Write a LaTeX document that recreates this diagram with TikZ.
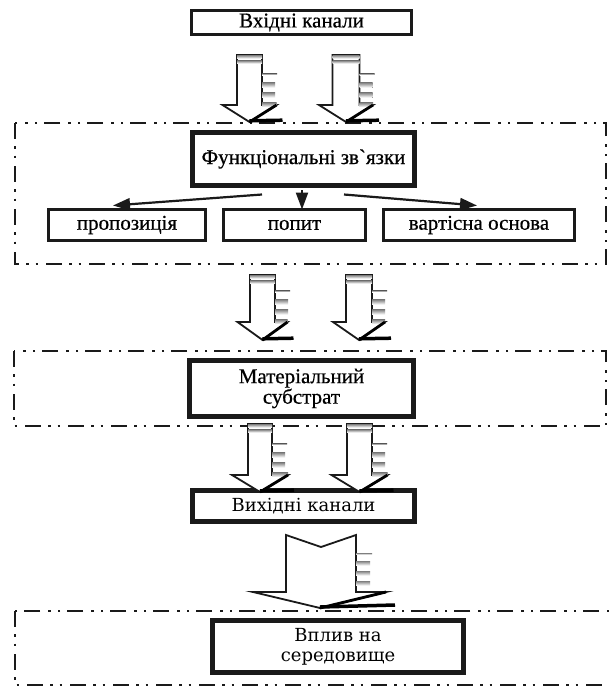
\documentclass[tikz,border=0pt]{standalone}
\usepackage{fontspec}
\setmainfont{Liberation Serif}
\newfontfamily\plainserif{Liberation Serif}[FakeBold=0.6]
\newfontfamily\wideserif{DejaVu Serif}
\usetikzlibrary{arrows.meta,calc}
\definecolor{ink}{HTML}{1A1A1A}
\definecolor{shade}{HTML}{262626}

\newcommand{\blkarrow}[6]{% cx, top, headstart, tip, shaft half, head half
  \draw[blockarrow] ({#1-#5},#2) -- ({#1+#5},#2) -- ({#1+#5},#3) -- ({#1+#6},#3)
     -- (#1,#4) -- ({#1-#6},#3) -- ({#1-#5},#3) -- cycle;
  \fill[shade] ({#1-#5},#2) rectangle ({#1+#5},{#2+3.5});
  \fill[shade] ({#1-#5},{#2+5.5}) rectangle ({#1+#5},{#2+8.5});
  \fill[shade] ({#1+#5},{#3-30}) rectangle ({#1+#5+15},{#3-31.5});
  \fill[shade] ({#1+#5},{#3-17.5}) rectangle ({#1+#5+13},{#3-22.5});
  \fill[shade] ({#1+#5},{#3-7.5}) rectangle ({#1+#5+13},{#3-12.5});
  \fill[shade] ({#1+#5},{#3+2}) rectangle ({#1+#6},{#3-2.5});
  \draw[shade, line width=2.8] ({#1+#6},#3) -- (#1,#4);
  \draw[shade, line width=3.5] (#1,{#4-1.2}) -- ({#1+#6+6},{#4-1.8});
}

\begin{document}
\begin{tikzpicture}[x=1pt,y=-1pt,
  box/.style={draw=ink, line width=3.5pt, fill=white, inner sep=0pt, align=center,
              font=\plainserif\fontsize{21}{20.5}\selectfont},
  heavy/.style={line width=5pt},
  wide/.style={font=\wideserif\fontsize{18}{20}\selectfont},
  container/.style={draw=ink, line width=2pt,
     dash pattern=on 16pt off 7pt on 2.5pt off 7pt on 2.5pt off 8pt},
  conn/.style={draw=ink, line width=2.2pt, -{Triangle[length=17pt,width=12pt]}},
  blockarrow/.style={draw=ink, line width=1.8pt, fill=white, line join=miter}
]
\useasboundingbox (0,0) rectangle (609,688);
\fill[white] (0,0) rectangle (609,688);

% containers
\draw[container] (15,123) rectangle (606,264);
\draw[container] (14,351) rectangle (606,426);
\draw[container] (15,611) rectangle (620,685);

% boxes
\node[box, minimum width=220pt, minimum height=24pt] (in) at (301.5,22.5) {Вхідні канали};
\node[box, heavy, minimum width=222pt, minimum height=53pt] (func) at (303.5,159)
   {Функціональні зв{\plainserif`}язки};
\node[box, line width=3pt, minimum width=157pt, minimum height=31pt] (prop) at (127,225) {пропозиція};
\node[box, line width=3pt, minimum width=142pt, minimum height=31pt] (pop) at (294.5,225) {попит};
\node[box, line width=3pt, minimum width=191pt, minimum height=31pt] (vart) at (479,225) {вартісна основа};
\node[box, heavy, minimum width=224pt, minimum height=56pt] (mat) at (301.5,388.5)
   {Матеріальний\\субстрат};
\node[box, heavy, wide, minimum width=222pt, minimum height=31pt] (out) at (303.5,506) {Вихідні канали};
\node[box, heavy, wide, minimum width=251pt, minimum height=52pt] (vpl) at (338,646.5)
   {Вплив на\\середовище};

% connectors inside container 1
\draw[conn] ($(func.south)+(-41.5,6.5)$) -- ($(prop.north)+(-14,-2.5)$);
\draw[conn] ($(func.south)+(40.5,6.5)$) -- ($(vart.north)+(-2,-2.5)$);
\draw[conn] ($(func.south)+(-1.5,2)$) -- ($(func.south)+(-1.5,21.5)$);

% block arrows: in -> container 1
\blkarrow{249.5}{55}{105}{122}{12.5}{27}
\blkarrow{346}{55}{105}{122}{13.5}{27}
% container 1 -> container 2
\blkarrow{262.5}{275}{322}{340}{12.5}{25}
\blkarrow{359}{275}{322}{340}{13}{26}
% container 2 -> out
\blkarrow{260}{424}{475}{492}{12}{28}
\blkarrow{359.5}{424}{475}{492}{12.5}{28}

% big arrow out -> vpl
\draw[blockarrow] (286,535) -- (321,547) -- (356,535) -- (356,592) -- (386,592)
   -- (320,608) -- (253,592) -- (286,592) -- cycle;
\fill[shade] (356,553) rectangle (372,554.5);
\fill[shade] (356,561) rectangle (370,565.5);
\fill[shade] (356,571) rectangle (370,575.5);
\fill[shade] (356,581) rectangle (370,585.5);
\draw[shade, line width=2.8] (386,592) -- (320,608);
\draw[shade, line width=3.5] (320,607) -- (395,605);
\end{tikzpicture}
\end{document}
